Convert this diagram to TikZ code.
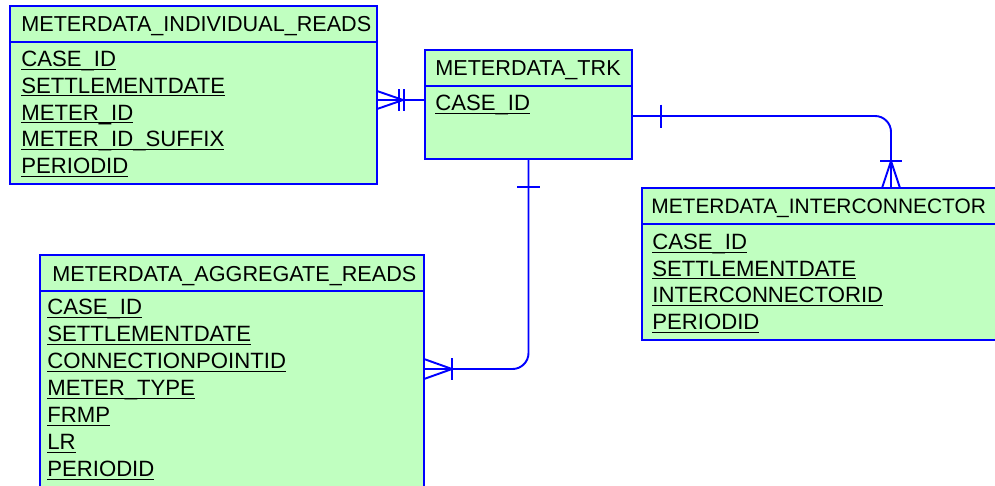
\documentclass[tikz,border=0pt]{standalone}
\usepackage{fontspec}
\setmainfont{Liberation Sans}
\usetikzlibrary{positioning,calc}
\definecolor{erblue}{RGB}{0,0,255}
\definecolor{ergreen}{RGB}{192,255,192}

\begin{document}
\begin{tikzpicture}[
  every node/.style={font=\fontsize{12.3}{14}\selectfont},
  entity/.style={rectangle, draw=erblue, fill=ergreen, line width=1.1pt, anchor=north west, inner sep=0pt, outer sep=0pt},
  enttitle/.style={anchor=base west, inner sep=0pt},
  entattr/.style={anchor=base west, inner sep=0pt, font=\fontsize{12.6}{14}\selectfont},
  rel/.style={draw=erblue, line width=1.1pt}
]
  \useasboundingbox (0,0) rectangle (19.9,-9.7);
  \clip (0,0) rectangle (19.9,-9.7);

  % tables
  \node[entity, minimum width=7.34cm, minimum height=0.72cm] (indhead) at (0.2,-0.12) {};
  \node[entity, minimum width=7.34cm, minimum height=2.84cm] (indbody) at (indhead.south west) {};
  \node[enttitle] (indtitle) at (0.42,-0.63) {METERDATA\_INDIVIDUAL\_READS};
  \foreach \a [count=\i] in {CASE\_ID,SETTLEMENTDATE,METER\_ID,METER\_ID\_SUFFIX,PERIODID}
    \node[entattr] (ind-\i) at (0.42,{-1.33-0.536*(\i-1)}) {\underline{\smash{\a}}};

  \node[entity, minimum width=4.14cm, minimum height=0.72cm] (trkhead) at (8.5,-1.0) {};
  \node[entity, minimum width=4.14cm, minimum height=1.46cm] (trkbody) at (trkhead.south west) {};
  \node[enttitle] (trktitle) at (8.7,-1.5) {METERDATA\_TRK};
  \node[entattr] (trk-1) at (8.7,-2.21) {\underline{\smash{CASE\_ID}}};

  \node[entity, minimum width=7.5cm, minimum height=0.72cm] (ichead) at (12.84,-3.76) {};
  \node[entity, minimum width=7.5cm, minimum height=2.32cm] (icbody) at (ichead.south west) {};
  \node[enttitle, font=\fontsize{11.9}{14}\selectfont] (ictitle) at (13.02,-4.26) {METERDATA\_INTERCONNECTOR};
  \foreach \a [count=\i] in {CASE\_ID,SETTLEMENTDATE,INTERCONNECTORID,PERIODID}
    \node[entattr] (ic-\i) at (13.04,{-4.99-0.533*(\i-1)}) {\underline{\smash{\a}}};

  \node[entity, minimum width=7.68cm, minimum height=0.72cm] (agghead) at (0.8,-5.1) {};
  \node[entity, minimum width=7.68cm, minimum height=4.5cm] (aggbody) at (agghead.south west) {};
  \node[enttitle] (aggtitle) at (1.04,-5.62) {METERDATA\_AGGREGATE\_READS};
  \foreach \a [count=\i] in {CASE\_ID,SETTLEMENTDATE,CONNECTIONPOINTID,METER\_TYPE,FRMP,LR,PERIODID}
    \node[entattr] (agg-\i) at (0.94,{-6.29-0.54*(\i-1)}) {\underline{\smash{\a}}};

  % relationships
  \coordinate (a1) at ([yshift=-0.28cm]trkbody.north west);
  \coordinate (a1e) at (indbody.east |- a1);
  \draw[rel] (a1e) -- (a1);
  \draw[rel] ([yshift=0.18cm]a1e) -- ++(0.52,-0.18) -- ++(-0.52,-0.18);
  \draw[rel] ([shift={(0.44,0.22)}]a1e) -- ++(0,-0.44);
  \draw[rel] ([shift={(0.54,0.22)}]a1e) -- ++(0,-0.44);

  \coordinate (a2) at ([yshift=-1.56cm]aggbody.north east);
  \draw[rel, rounded corners=0.32cm] (trkbody.south) |- (a2);
  \draw[rel] ([shift={(-0.23,-0.56)}]trkbody.south) -- ++(0.46,0);
  \draw[rel] ([yshift=0.2cm]a2) -- ++(0.56,-0.2) -- ++(-0.56,-0.2);
  \draw[rel] ([shift={(0.56,0.22)}]a2) -- ++(0,-0.44);

  \coordinate (a3s) at ([yshift=-0.6cm]trkbody.north east);
  \coordinate (a3) at ([xshift=4.98cm]ichead.north west);
  \draw[rel, rounded corners=0.32cm] (a3s) -| (a3);
  \draw[rel] ([shift={(0.58,0.23)}]a3s) -- ++(0,-0.46);
  \draw[rel] ([xshift=-0.18cm]a3) -- ++(0.18,0.54) -- ++(0.18,-0.54);
  \draw[rel] ([shift={(-0.22,0.54)}]a3) -- ++(0.44,0);
\end{tikzpicture}
\end{document}
